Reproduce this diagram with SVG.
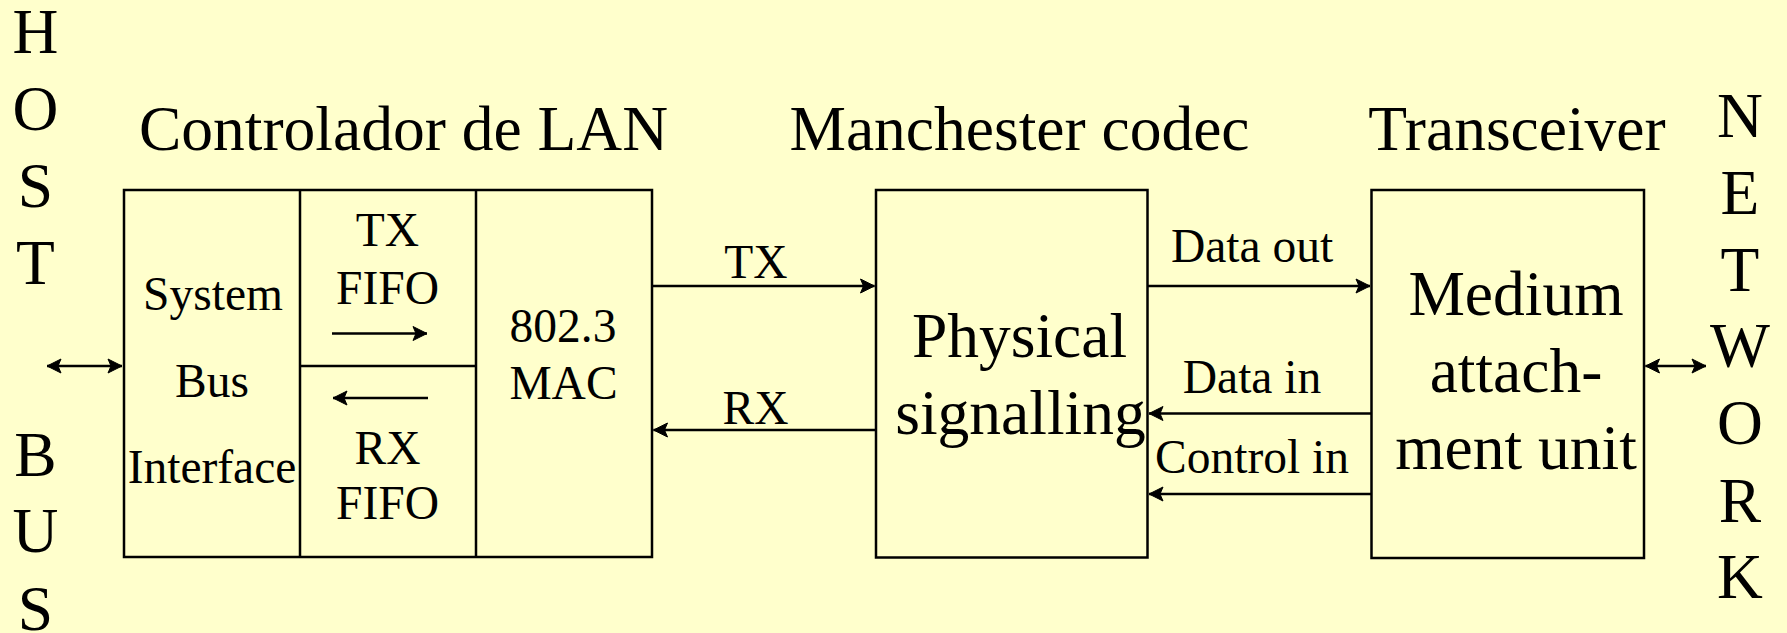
<svg xmlns="http://www.w3.org/2000/svg" width="1787" height="633" viewBox="0 0 1787 633">
<style>
  .bg { fill: #FFFFCC; }
  .box { fill: none; stroke: #000; stroke-width: 2.5; }
  .ln { fill: none; stroke: #000; stroke-width: 2.5; }
  .big { font-family: "Liberation Serif", "Times New Roman", serif; font-size: 63.5px; fill: #000; text-anchor: middle; }
  .sm { font-family: "Liberation Serif", "Times New Roman", serif; font-size: 47.5px; fill: #000; text-anchor: middle; }
</style>
<defs>
  <marker id="ah" viewBox="-16 -10 18 20" refX="0" refY="0" markerWidth="18" markerHeight="20" markerUnits="userSpaceOnUse" orient="auto-start-reverse">
    <path d="M-14,-7 L0,0 L-14,7 L-11,0 Z" fill="#000" stroke="#000" stroke-width="1" stroke-linejoin="miter"/>
  </marker>
</defs>
<rect class="bg" x="0" y="0" width="1787" height="633"/>

<g id="host-bus">
  <text class="big" x="35.5" y="53">H</text>
  <text class="big" x="35.5" y="130">O</text>
  <text class="big" x="35.5" y="207">S</text>
  <text class="big" x="35.5" y="284">T</text>
  <text class="big" x="35.5" y="476">B</text>
  <text class="big" x="35.5" y="552">U</text>
  <text class="big" x="35.5" y="630">S</text>
</g>

<g id="network">
  <text class="big" x="1740" y="137">N</text>
  <text class="big" x="1740" y="214">E</text>
  <text class="big" x="1740" y="291">T</text>
  <text class="big" x="1740" y="367">W</text>
  <text class="big" x="1740" y="444">O</text>
  <text class="big" x="1740" y="522">R</text>
  <text class="big" x="1740" y="598">K</text>
</g>

<g id="titles">
  <text class="big" x="403.5" y="150">Controlador de LAN</text>
  <text class="big" x="1019.5" y="150">Manchester codec</text>
  <text class="big" x="1517" y="150">Transceiver</text>
</g>

<g id="lan-controller">
  <rect class="box" x="124" y="190" width="528" height="367"/>
  <line class="ln" x1="300" y1="190" x2="300" y2="557"/>
  <line class="ln" x1="476" y1="190" x2="476" y2="557"/>
  <line class="ln" x1="300" y1="366" x2="476" y2="366"/>
  <g id="system-bus-interface">
    <text class="sm" x="213" y="310">System</text>
    <text class="sm" x="212" y="397">Bus</text>
    <text class="sm" x="212" y="483">Interface</text>
  </g>
  <g id="tx-fifo">
    <text class="sm" x="387.5" y="246">TX</text>
    <text class="sm" x="387.5" y="304">FIFO</text>
    <line class="ln" x1="332" y1="333.5" x2="427" y2="333.5" stroke-width="2" marker-end="url(#ah)"/>
  </g>
  <g id="rx-fifo">
    <line class="ln" x1="428" y1="398" x2="333" y2="398" stroke-width="2" marker-end="url(#ah)"/>
    <text class="sm" x="387.5" y="464">RX</text>
    <text class="sm" x="387.5" y="519">FIFO</text>
  </g>
  <g id="mac">
    <text class="sm" x="563" y="342">802.3</text>
    <text class="sm" x="563.5" y="399">MAC</text>
  </g>
</g>

<g id="physical-signalling">
  <rect class="box" x="876" y="190" width="271.5" height="367.5"/>
  <text class="big" x="1019.5" y="357">Physical</text>
  <text class="big" x="1020.5" y="433.5">signalling</text>
</g>

<g id="mau">
  <rect class="box" x="1371.5" y="190" width="272.5" height="368"/>
  <text class="big" x="1516" y="314.5">Medium</text>
  <text class="big" x="1516" y="392">attach-</text>
  <text class="big" x="1516" y="469">ment unit</text>
</g>

<g id="connectors">
  <line class="ln" x1="47" y1="366" x2="122" y2="366" marker-start="url(#ah)" marker-end="url(#ah)"/>
  <line class="ln" x1="652" y1="286" x2="874.5" y2="286" marker-end="url(#ah)"/>
  <line class="ln" x1="876" y1="430" x2="653.5" y2="430" marker-end="url(#ah)"/>
  <line class="ln" x1="1147.5" y1="286" x2="1370" y2="286" marker-end="url(#ah)"/>
  <line class="ln" x1="1371.5" y1="413.5" x2="1149" y2="413.5" marker-end="url(#ah)"/>
  <line class="ln" x1="1371.5" y1="494" x2="1149" y2="494" marker-end="url(#ah)"/>
  <line class="ln" x1="1645.5" y1="366" x2="1706" y2="366" marker-start="url(#ah)" marker-end="url(#ah)"/>
  <text class="sm" x="756" y="278">TX</text>
  <text class="sm" x="755.5" y="424">RX</text>
  <text class="sm" x="1252" y="262">Data out</text>
  <text class="sm" x="1252" y="393">Data in</text>
  <text class="sm" x="1252" y="473">Control in</text>
</g>
</svg>
